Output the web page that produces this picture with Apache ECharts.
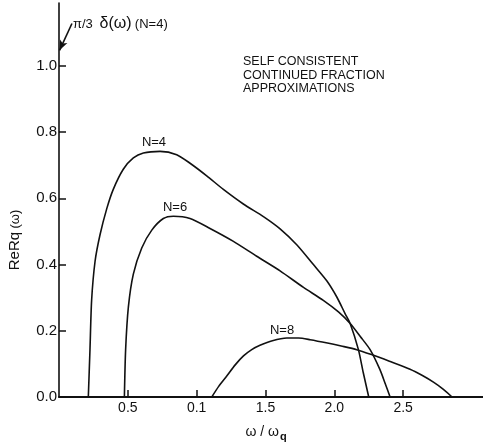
<!DOCTYPE html>
<html>
<head>
<meta charset="utf-8">
<script src="https://cdn.jsdelivr.net/npm/echarts@6/dist/echarts.min.js"></script>
<style>
  html, body { margin: 0; padding: 0; background: #fff; }
  #main { width: 483px; height: 447px; }
</style>
</head>
<body>
<div id="main"></div>
<script>
// curves: [omega/omega_q, ReRq]
var curveN4 = [[0.213,0],[0.225,0.143],[0.237,0.292],[0.262,0.41],[0.298,0.49],[0.347,0.569],[0.395,0.628],[0.467,0.688],[0.54,0.722],[0.613,0.737],[0.734,0.742],[0.855,0.732],[0.952,0.706],[1.073,0.668],[1.194,0.627],[1.339,0.583],[1.485,0.545],[1.606,0.508],[1.727,0.46],[1.848,0.40],[1.945,0.351],[2.018,0.302],[2.078,0.252],[2.115,0.222],[2.175,0.143],[2.21,0.074],[2.25,0]]
var curveN6 = [[0.475,0],[0.484,0.143],[0.504,0.272],[0.54,0.371],[0.601,0.45],[0.674,0.504],[0.758,0.539],[0.831,0.546],[0.952,0.539],[1.097,0.509],[1.267,0.47],[1.436,0.425],[1.606,0.381],[1.776,0.331],[1.92,0.292],[2.03,0.257],[2.115,0.222],[2.19,0.182],[2.26,0.143],[2.33,0.084],[2.37,0.04],[2.405,0]]
var curveN8 = [[1.11,0],[1.16,0.032],[1.22,0.064],[1.28,0.097],[1.34,0.124],[1.40,0.143],[1.46,0.156],[1.55,0.17],[1.655,0.178],[1.74,0.178],[1.824,0.173],[1.95,0.163],[2.05,0.154],[2.163,0.143],[2.27,0.128],[2.40,0.108],[2.55,0.084],[2.64,0.065],[2.72,0.045],[2.79,0.024],[2.855,0]]

var xTickValues = [0.5, 1, 1.5, 2, 2.5]
var xTickLabels = ['0.5', '0.1', '1.5', '2.0', '2.5']  // "0.1" is as printed in the figure
var yTickValues = [0, 0.2, 0.4, 0.6, 0.8, 1.0]
var yTickLabels = ['0.0', '0.2', '0.4', '0.6', '0.8', '1.0']

var curveNames = ['N=4', 'N=6', 'N=8']
var curveLabelPos = [[0.69, 0.769], [0.843, 0.573], [1.62, 0.202]]

var font = 'Liberation Sans, Arial, sans-serif'
var chart = echarts.init(document.getElementById('main'))

function curveSeries(name, data, labelPos) {
  return {
    name: name,
    type: 'line',
    data: data,
    smooth: 0.25,
    symbol: 'none',
    silent: true,
    lineStyle: { color: '#111', width: 1.6 },
    markPoint: {
      silent: true,
      symbol: 'circle',
      symbolSize: 0,
      data: [{ coord: labelPos }],
      label: { show: true, formatter: name, color: '#111', fontSize: 13, fontFamily: font, position: 'inside' }
    }
  }
}

var series = [
  curveSeries(curveNames[0], curveN4, curveLabelPos[0]),
  curveSeries(curveNames[1], curveN6, curveLabelPos[1]),
  curveSeries(curveNames[2], curveN8, curveLabelPos[2])
]
// arrow for the delta function at omega = 0
series[0].markLine = {
  silent: true,
  symbol: ['none', 'arrow'],
  symbolSize: [6, 10],
  lineStyle: { color: '#111', width: 1.6, type: 'solid' },
  label: { show: false },
  data: [[{ coord: [0.094, 1.128] }, { coord: [0.004, 1.047] }]]
}

chart.setOption({
  backgroundColor: '#fff',
  animation: false,
  grid: { left: 59, right: 0, top: 3, bottom: 42 },
  xAxis: {
    type: 'value',
    min: 0,
    max: 3.08,
    name: '{a|ω / ω}{s|q}',
    nameLocation: 'middle',
    nameGap: 26,
    nameTextStyle: {
      padding: [0, 10, 0, 0],
      rich: {
        a: { fontSize: 14, fontFamily: font, color: '#111' },
        s: { fontSize: 11, fontFamily: font, color: '#111', fontWeight: 'bold', padding: [8, 0, 0, 1] }
      }
    },
    axisLine: { onZero: false, lineStyle: { color: '#111', width: 2 } },
    axisTick: { show: true, inside: true, length: 7, customValues: xTickValues, lineStyle: { color: '#111', width: 1.5 } },
    axisLabel: {
      customValues: xTickValues,
      margin: 4,
      fontSize: 14,
      fontFamily: font,
      color: '#111',
      formatter: function (v) {
        var i = xTickValues.indexOf(Math.round(v * 10) / 10)
        return i >= 0 ? xTickLabels[i] : ''
      }
    },
    splitLine: { show: false }
  },
  yAxis: {
    type: 'value',
    min: 0,
    max: 1.19,
    axisLine: { show: true, lineStyle: { color: '#111', width: 1.6 } },
    axisTick: { show: true, inside: true, length: 7, customValues: yTickValues, lineStyle: { color: '#111', width: 1.5 } },
    axisLabel: {
      customValues: yTickValues,
      margin: 2,
      fontSize: 15,
      fontFamily: font,
      color: '#111',
      formatter: function (v) {
        var i = yTickValues.indexOf(Math.round(v * 10) / 10)
        return i >= 0 ? yTickLabels[i] : ''
      }
    },
    splitLine: { show: false }
  },
  graphic: [
    {
      type: 'text',
      x: 15,
      y: 240,
      rotation: Math.PI / 2,
      style: {
        text: '{a|ReRq} {b|(ω)}',
        align: 'center',
        verticalAlign: 'middle',
        rich: {
          a: { fontSize: 15, fontFamily: font, fill: '#111' },
          b: { fontSize: 13, fontFamily: font, fill: '#111' }
        }
      }
    },
    {
      type: 'text',
      left: 73,
      top: 16,
      style: {
        text: '{a|π/3}  {b|δ(ω)} {a|(N=4)}',
        rich: {
          a: { fontSize: 13, fontFamily: font, fill: '#111' },
          b: { fontSize: 16, fontFamily: font, fill: '#111' }
        }
      }
    },
    {
      type: 'text',
      left: 243,
      top: 55,
      style: {
        text: 'SELF CONSISTENT\nCONTINUED FRACTION\nAPPROXIMATIONS',
        font: '12.5px ' + font,
        lineHeight: 13.5,
        fill: '#111'
      }
    }
  ],
  series: series
})
</script>
</body>
</html>
